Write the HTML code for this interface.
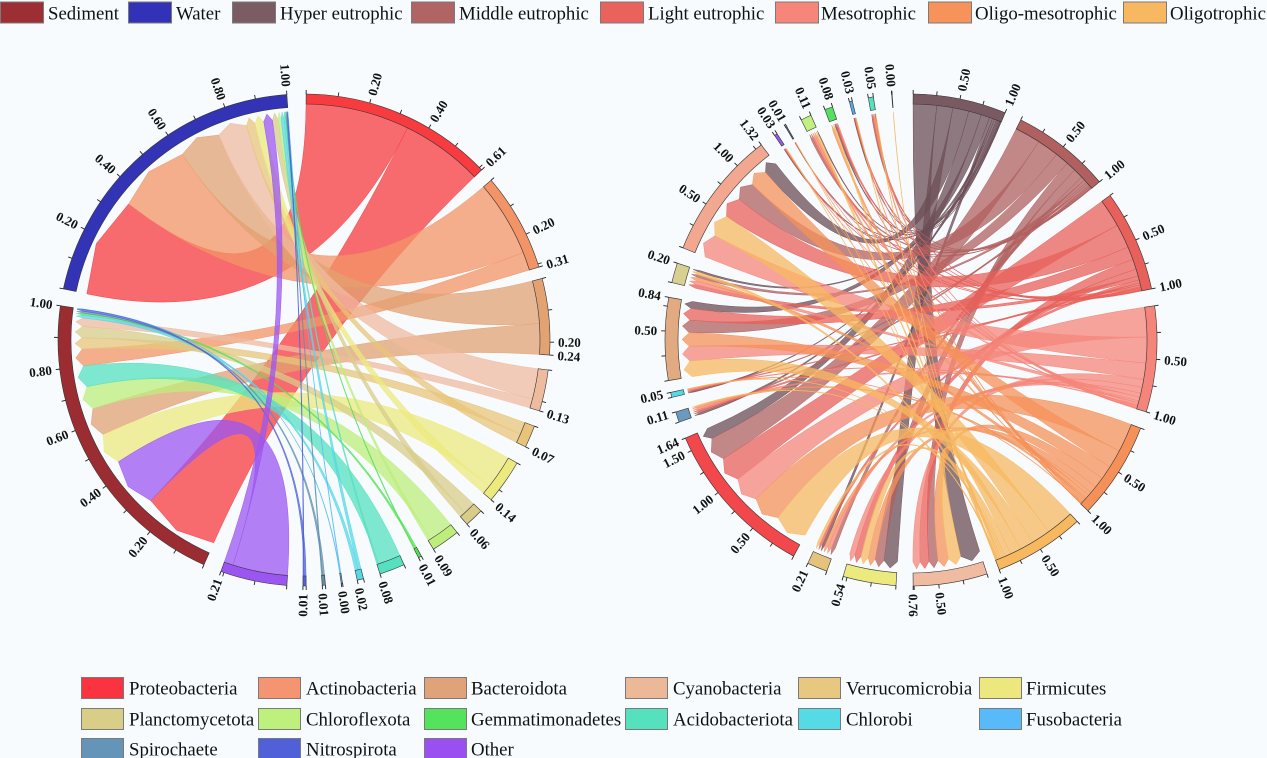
<!DOCTYPE html>
<html><head><meta charset="utf-8"><style>
html,body{margin:0;padding:0;background:#f7fbfd;}
svg{display:block;}
svg text{font-family:"Liberation Serif","DejaVu Serif",serif;}
.lg text{font-size:18.8px;fill:#111;}
.tk text{font-size:13px;font-weight:bold;fill:#111;}
</style></head><body>
<svg id="s" xmlns="http://www.w3.org/2000/svg" width="1267" height="758" viewBox="0 0 1267 758">
<rect width="1267" height="758" fill="#f7fbfd"/>
<g id="chL"></g><g id="chR"></g><g id="arcs"></g>

<!-- top legend -->
<g class="lg">
<rect x="0.5" y="2" width="43" height="21" fill="#9d2e33" stroke="#7a7a7a"/><text x="48" y="19.5">Sediment</text>
<rect x="128.5" y="2" width="43" height="21" fill="#3132b8" stroke="#7a7a7a"/><text x="176" y="19.5">Water</text>
<rect x="232.5" y="2" width="43" height="21" fill="#7a5c62" stroke="#7a7a7a"/><text x="280" y="19.5">Hyper eutrophic</text>
<rect x="411.5" y="2" width="43" height="21" fill="#b06464" stroke="#7a7a7a"/><text x="459" y="19.5">Middle eutrophic</text>
<rect x="600.5" y="2" width="43" height="21" fill="#ea625c" stroke="#7a7a7a"/><text x="648" y="19.5">Light eutrophic</text>
<rect x="775.5" y="2" width="43" height="21" fill="#f7857a" stroke="#7a7a7a"/><text x="821" y="19.5">Mesotrophic</text>
<rect x="928.5" y="2" width="43" height="21" fill="#f6925a" stroke="#7a7a7a"/><text x="975" y="19.5">Oligo-mesotrophic</text>
<rect x="1123.5" y="2" width="43" height="21" fill="#f8b862" stroke="#7a7a7a"/><text x="1170" y="19.5">Oligotrophic</text>
</g>

<!-- bottom legend -->
<g class="lg">
<rect x="81.5" y="677.5" width="42" height="21" fill="#fa3340" stroke="#7a7a7a"/><text x="129" y="694.5">Proteobacteria</text>
<rect x="258.5" y="677.5" width="42" height="21" fill="#f59470" stroke="#7a7a7a"/><text x="306" y="694.5">Actinobacteria</text>
<rect x="424.5" y="677.5" width="42" height="21" fill="#e0a278" stroke="#7a7a7a"/><text x="471" y="694.5">Bacteroidota</text>
<rect x="625.5" y="677.5" width="42" height="21" fill="#edb898" stroke="#7a7a7a"/><text x="673" y="694.5">Cyanobacteria</text>
<rect x="798.5" y="677.5" width="42" height="21" fill="#e8c880" stroke="#7a7a7a"/><text x="846" y="694.5">Verrucomicrobia</text>
<rect x="979.5" y="677.5" width="42" height="21" fill="#ece87e" stroke="#7a7a7a"/><text x="1026" y="694.5">Firmicutes</text>

<rect x="81.5" y="708.5" width="42" height="21" fill="#d8ce88" stroke="#7a7a7a"/><text x="129" y="725.5">Planctomycetota</text>
<rect x="258.5" y="708.5" width="42" height="21" fill="#bef07e" stroke="#7a7a7a"/><text x="306" y="725.5">Chloroflexota</text>
<rect x="424.5" y="708.5" width="42" height="21" fill="#55e35e" stroke="#7a7a7a"/><text x="471" y="725.5">Gemmatimonadetes</text>
<rect x="625.5" y="708.5" width="42" height="21" fill="#55e0be" stroke="#7a7a7a"/><text x="673" y="725.5">Acidobacteriota</text>
<rect x="798.5" y="708.5" width="42" height="21" fill="#55dae6" stroke="#7a7a7a"/><text x="846" y="725.5">Chlorobi</text>
<rect x="979.5" y="708.5" width="42" height="21" fill="#58baf8" stroke="#7a7a7a"/><text x="1026" y="725.5">Fusobacteria</text>

<rect x="81.5" y="738.5" width="42" height="21" fill="#6494b8" stroke="#7a7a7a"/><text x="129" y="755.5">Spirochaete</text>
<rect x="258.5" y="738.5" width="42" height="21" fill="#5060d8" stroke="#7a7a7a"/><text x="306" y="755.5">Nitrospirota</text>
<rect x="424.5" y="738.5" width="42" height="21" fill="#9a50f0" stroke="#7a7a7a"/><text x="471" y="755.5">Other</text>
</g>

<!-- left circle tick labels -->
<g class="tk">
<text x="558" y="344.5" transform="rotate(-74.5 304 340)">0.20</text>
<text x="558" y="344.5" transform="rotate(-59.5 304 340)">0.40</text>
<text x="558" y="344.5" transform="rotate(-43.75 304 340)">0.61</text>
<text x="558" y="344.5" transform="rotate(-25.5 304 340)">0.20</text>
<text x="558" y="344.5" transform="rotate(-17.25 304 340)">0.31</text>
<text x="558" y="344.5" transform="rotate(0.5 304 340)">0.20</text>
<text x="558" y="344.5" transform="rotate(3.5 304 340)">0.24</text>
<text x="558" y="344.5" transform="rotate(16.75 304 340)">0.13</text>
<text x="558" y="344.5" transform="rotate(25.75 304 340)">0.07</text>
<text x="558" y="344.5" transform="rotate(40.5 304 340)">0.14</text>
<text x="558" y="344.5" transform="rotate(48.5 304 340)">0.06</text>
<text x="558" y="344.5" transform="rotate(58.25 304 340)">0.09</text>
<text x="558" y="344.5" transform="rotate(62.25 304 340)">0.01</text>
<text x="558" y="344.5" transform="rotate(72 304 340)">0.08</text>
<text x="558" y="344.5" transform="rotate(77.5 304 340)">0.02</text>
<text x="558" y="344.5" transform="rotate(81.3 304 340)">0.00</text>
<text x="558" y="344.5" transform="rotate(85.75 304 340)">0.01</text>
<text x="50" y="344.5" text-anchor="end" transform="rotate(270.25 304 340)">0.01</text>
<text x="50" y="344.5" text-anchor="end" transform="rotate(289.75 304 340)">0.21</text>
<text x="50" y="344.5" text-anchor="end" transform="rotate(308.8 304 340)">0.20</text>
<text x="50" y="344.5" text-anchor="end" transform="rotate(323.6 304 340)">0.40</text>
<text x="50" y="344.5" text-anchor="end" transform="rotate(338.4 304 340)">0.60</text>
<text x="50" y="344.5" text-anchor="end" transform="rotate(353.2 304 340)">0.80</text>
<text x="50" y="344.5" text-anchor="end" transform="rotate(368 304 340)">1.00</text>
<text x="50" y="344.5" text-anchor="end" transform="rotate(386.8 304 340)">0.20</text>
<text x="50" y="344.5" text-anchor="end" transform="rotate(401.6 304 340)">0.40</text>
<text x="50" y="344.5" text-anchor="end" transform="rotate(416.4 304 340)">0.60</text>
<text x="50" y="344.5" text-anchor="end" transform="rotate(431.2 304 340)">0.80</text>
<text x="50" y="344.5" text-anchor="end" transform="rotate(446 304 340)">1.00</text>
</g>

<!-- right circle tick labels -->
<g class="tk">
<text x="1165" y="344.5" transform="rotate(-78.5 911 340)">0.50</text>
<text x="1165" y="344.5" transform="rotate(-67.5 911 340)">1.00</text>
<text x="1165" y="344.5" transform="rotate(-51.75 911 340)">0.50</text>
<text x="1165" y="344.5" transform="rotate(-40 911 340)">1.00</text>
<text x="1165" y="344.5" transform="rotate(-24 911 340)">0.50</text>
<text x="1165" y="344.5" transform="rotate(-12 911 340)">1.00</text>
<text x="1165" y="344.5" transform="rotate(4.5 911 340)">0.50</text>
<text x="1165" y="344.5" transform="rotate(17 911 340)">1.00</text>
<text x="1165" y="344.5" transform="rotate(32.5 911 340)">0.50</text>
<text x="1165" y="344.5" transform="rotate(44 911 340)">1.00</text>
<text x="1165" y="344.5" transform="rotate(58.25 911 340)">0.50</text>
<text x="1165" y="344.5" transform="rotate(69 911 340)">1.00</text>
<text x="1165" y="344.5" transform="rotate(83.5 911 340)">0.50</text>
<text x="1165" y="344.5" transform="rotate(89.5 911 340)">0.76</text>
<text x="657" y="344.5" text-anchor="end" transform="rotate(286 911 340)">0.54</text>
<text x="657" y="344.5" text-anchor="end" transform="rotate(294.8 911 340)">0.21</text>
<text x="657" y="344.5" text-anchor="end" transform="rotate(310.1 911 340)">0.50</text>
<text x="657" y="344.5" text-anchor="end" transform="rotate(321.7 911 340)">1.00</text>
<text x="657" y="344.5" text-anchor="end" transform="rotate(333.3 911 340)">1.50</text>
<text x="657" y="344.5" text-anchor="end" transform="rotate(336.5 911 340)">1.64</text>
<text x="657" y="344.5" text-anchor="end" transform="rotate(343 911 340)">0.11</text>
<text x="657" y="344.5" text-anchor="end" transform="rotate(347.7 911 340)">0.05</text>
<text x="657" y="344.5" text-anchor="end" transform="rotate(362.1 911 340)">0.50</text>
<text x="657" y="344.5" text-anchor="end" transform="rotate(370 911 340)">0.84</text>
<text x="657" y="344.5" text-anchor="end" transform="rotate(378.2 911 340)">0.20</text>
<text x="657" y="344.5" text-anchor="end" transform="rotate(393.55 911 340)">0.50</text>
<text x="657" y="344.5" text-anchor="end" transform="rotate(405.1 911 340)">1.00</text>
<text x="657" y="344.5" text-anchor="end" transform="rotate(412.5 911 340)">1.32</text>
<text x="657" y="344.5" text-anchor="end" transform="rotate(417 911 340)">0.03</text>
<text x="657" y="344.5" text-anchor="end" transform="rotate(419.8 911 340)">0.01</text>
<text x="657" y="344.5" text-anchor="end" transform="rotate(426 911 340)">0.11</text>
<text x="657" y="344.5" text-anchor="end" transform="rotate(431.4 911 340)">0.08</text>
<text x="657" y="344.5" text-anchor="end" transform="rotate(436.2 911 340)">0.03</text>
<text x="657" y="344.5" text-anchor="end" transform="rotate(441.2 911 340)">0.05</text>
<text x="657" y="344.5" text-anchor="end" transform="rotate(445.6 911 340)">0.00</text>
</g>
</svg>
<script>
(function(){
var NS='http://www.w3.org/2000/svg', D=Math.PI/180;
function P(c,r,a){return [c[0]+r*Math.sin(a*D), c[1]-r*Math.cos(a*D)];}
function f(p){return p[0].toFixed(2)+','+p[1].toFixed(2);}
function A(c,r,a1,a2){return 'A'+r+','+r+' 0 '+((a2-a1)>180?1:0)+' 1 '+f(P(c,r,a2));}
function Ar(c,r,a1,a2){return 'A'+r+','+r+' 0 '+((a2-a1)>180?1:0)+' 0 '+f(P(c,r,a1));}
function el(tag,at,par){var e=document.createElementNS(NS,tag);for(var k in at)e.setAttribute(k,at[k]);par.appendChild(e);return e;}
var gArc=document.getElementById('arcs');

function draw(c, arcs, links, step, gCh){
  var R=246, rs=236, rb=222, rt=229;
  var segs=arcs.map(function(){return [];});
  links.forEach(function(l,i){segs[l[0]].push({i:i,v:l[2],e:'s'});segs[l[1]].push({i:i,v:l[2],e:'t'});});
  var pos=links.map(function(){return {};});
  arcs.forEach(function(a,ai){
    var list=segs[ai].slice().sort(function(x,y){return y.v-x.v;});
    var sum=0; list.forEach(function(x){sum+=x.v;});
    var cur=a[1], span=a[2]-a[1];
    list.forEach(function(x){var w=sum>0?x.v/sum*span:0; pos[x.i][x.e]=[cur,cur+w]; cur+=w;});
  });
  var C=f(c);
  links.forEach(function(l,i){
    var s=pos[i].s, t=pos[i].t, col=arcs[l[0]][6]||arcs[l[0]][3];
    var d='M'+f(P(c,rs,s[0]))+A(c,rs,s[0],s[1])+'Q'+C+' '+f(P(c,rb,t[0]))+'L'+f(P(c,rt,(t[0]+t[1])/2))+'L'+f(P(c,rb,t[1]))+'Q'+C+' '+f(P(c,rs,s[0]))+'Z';
    el('path',{d:d,fill:col,'fill-opacity':0.75,stroke:col,'stroke-opacity':0.9,'stroke-width':0.5},gCh);
  });
  arcs.forEach(function(a){
    var r1=a[4]==='t'?233:rs, a1=a[1], a2=a[2], tot=a[5];
    el('path',{d:'M'+f(P(c,R,a1))+A(c,R,a1,a2)+'L'+f(P(c,r1,a2))+Ar(c,r1,a1,a2)+'Z',fill:a[3],stroke:'#333','stroke-width':0.6},gArc);
    var vals=[];
    if(tot>0){for(var k=0;k*step<=tot+1e-9;k++)vals.push(k*step); if(Math.abs(vals[vals.length-1]-tot)>1e-6)vals.push(tot);}
    var angs=tot>0?vals.map(function(v){return a1+v/tot*(a2-a1);}):[a1,a2];
    angs.forEach(function(g){var p1=P(c,R,g),p2=P(c,R+4,g);
      el('line',{x1:p1[0],y1:p1[1],x2:p2[0],y2:p2[1],stroke:'#222','stroke-width':0.9},gArc);});
  });
}

// LEFT circle
var cL=[304,340];
var LA=[
 ['Proteo',0.5,46.25,'#f73b3f','s',0.61],
 ['Actino',49.5,72.75,'#f39466','s',0.31],
 ['Bactero',75.5,93.5,'#e2a272','s',0.24],
 ['Cyano',97,106.75,'#efbb9f','s',0.13],
 ['Verruco',110.5,115.75,'#e8c47a','s',0.07],
 ['Firmi',120,130.5,'#ece97e','s',0.14],
 ['Plancto',134,138.5,'#d8cc88','s',0.06],
 ['Chloroflexota',141.5,148.25,'#bdee7c','s',0.09],
 ['Gemma',151.5,152.25,'#55e055','s',0.01],
 ['Acido',156,162,'#55e0bf','s',0.08],
 ['Chlorobi',166,167.5,'#55d8e6','s',0.02],
 ['Fuso',171,171.3,'#58baf6','s',0],
 ['Spiro',175,175.75,'#6090b0','s',0.01],
 ['Nitro',179.5,180.25,'#5060d8','s',0.01],
 ['Other',184,199.75,'#9b55f0','s',0.21],
 ['Sed',204,278,'#9b2d32','t',1],
 ['Water',282,356,'#3333b6','t',1]
];
var WS=[[.34,.27],[.25,.06],[.14,.10],[.10,.03],[.03,.04],[.03,.11],[.02,.04],[.01,.08],[.003,.007],[.005,.075],[.01,.01],[.001,.001],[.003,.007],[.003,.007],[.03,.18]];
var LL=[];
WS.forEach(function(w,i){LL.push([i,16,w[0]]);LL.push([i,15,w[1]]);});
draw(cL,LA,LL,0.1,document.getElementById('chL'));

// RIGHT circle
var cR=[911,340];
var RA=[
 ['Hyper',0.5,22.5,'#7a5a62','s',1,'#6c4e56'],
 ['Middle',26.5,50,'#b0605f','s',1],
 ['Light',54,78,'#e8605a','s',1],
 ['Meso',82,107,'#f5857a','s',1],
 ['OM',111,134,'#f59158','s',1],
 ['Oligo',137.5,159,'#f7b860','s',1],
 ['Cyano',162,179.5,'#efbca2','t',0.76],
 ['Firmi',183.5,196,'#ece97e','t',0.54],
 ['Verruco',200,204.8,'#e4c47c','t',0.21],
 ['Proteo',208.5,246.5,'#f2474b','t',1.64],
 ['Spiro',250.5,253,'#6a9ac0','t',0.11],
 ['Chlorobi',256.5,257.7,'#55d8e6','t',0.05],
 ['Bactero',260.5,280,'#e2aa80','t',0.84],
 ['Plancto',283.5,288.2,'#d8d090','t',0.20],
 ['Actino',292,322.5,'#f2a890','t',1.32],
 ['Other',326.3,327,'#9b55f0','t',0.03],
 ['Nitro',329.5,329.8,'#556080','t',0.01],
 ['Chloroflexota',333.5,336,'#c0f080','t',0.11],
 ['Gemma',339.5,341.4,'#55e060','t',0.08],
 ['Fuso',345.5,346.2,'#58aae6','t',0.03],
 ['Acido',350,351.2,'#55e0c0','t',0.05],
 ['Zero',355.5,355.6,'#666666','t',0]
];
var M={
 6:[.22,.10,.10,.08,.12,.14],
 7:[.15,.10,.07,.06,.08,.08],
 8:[.03,.04,.03,.04,.04,.03],
 9:[.12,.26,.28,.30,.32,.36],
 10:[.02,.02,.02,.02,.02,.01],
 11:[.01,.01,.01,.01,.005,.005],
 12:[.08,.14,.13,.165,.15,.175],
 13:[.02,.03,.04,.04,.04,.03],
 14:[.15,.22,.24,.26,.20,.25],
 15:[.005,.005,.005,.005,.005,.005],
 16:[.002,.002,.002,.002,.002,.002],
 17:[.01,.02,.02,.02,.02,.02],
 18:[.01,.01,.01,.01,.02,.02],
 19:[.005,.005,.005,.005,.005,.005],
 20:[.005,.01,.01,.01,.01,.005],
 21:[0,0,0,0,0,.001]
};
var RL=[];
for(var t=0;t<6;t++){for(var p=6;p<=21;p++){var v=M[p][t]; if(v>0)RL.push([t,p,v]);}}
draw(cR,RA,RL,0.25,document.getElementById('chR'));
})();
</script>
</body></html>
